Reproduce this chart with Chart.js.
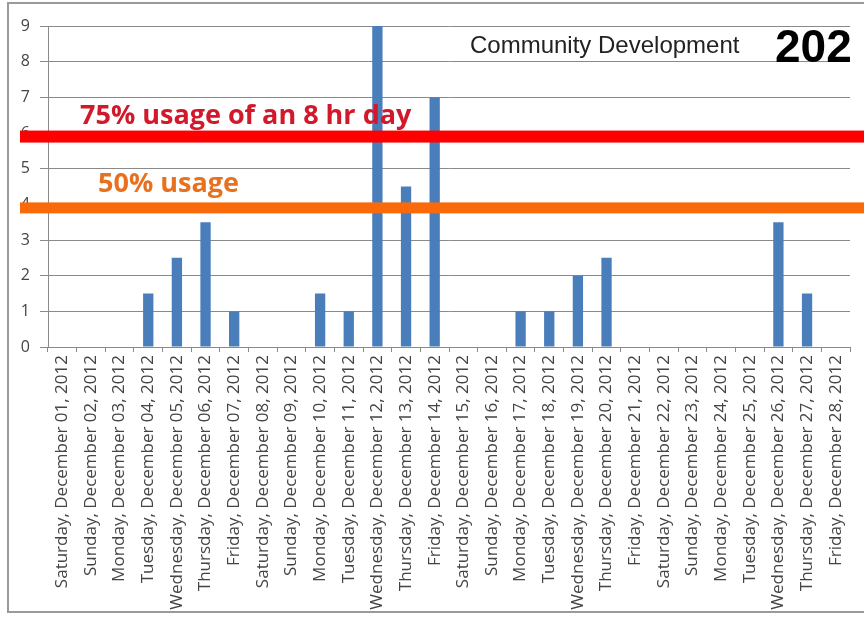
<!DOCTYPE html>
<html>
<head>
<meta charset="utf-8">
<script src="https://cdn.jsdelivr.net/npm/chart.js@4/dist/chart.umd.min.js"></script>
<style>
  html, body { margin: 0; padding: 0; background: #fff; }
  #wrap { width: 864px; height: 623px; position: relative; }
</style>
</head>
<body>
<div id="wrap"><canvas id="usageChart" width="864" height="623"></canvas></div>
<script>
const DAYS = ['Saturday','Sunday','Monday','Tuesday','Wednesday','Thursday','Friday',
  'Saturday','Sunday','Monday','Tuesday','Wednesday','Thursday','Friday',
  'Saturday','Sunday','Monday','Tuesday','Wednesday','Thursday','Friday',
  'Saturday','Sunday','Monday','Tuesday','Wednesday','Thursday','Friday'];
const DATES = ['01','02','03','04','05','06','07','08','09','10','11','12','13','14',
  '15','16','17','18','19','20','21','22','23','24','25','26','27','28'];
const HOURS = [0, 0, 0, 1.5, 2.5, 3.5, 1, 0, 0, 1.5, 1, 9, 4.5, 7,
  0, 0, 1, 1, 2, 2.5, 0, 0, 0, 0, 0, 3.5, 1.5, 0];
const Y_TICKS = [0, 1, 2, 3, 4, 5, 6, 7, 8, 9];

// reference lines drawn across the chart
const THRESHOLD_LABELS = ['75% usage of an 8 hr day', '50% usage'];
const THRESHOLD_VALUES = [5.9, 3.9];
const THRESHOLD_COLORS = ['#ff0000', '#fa6a0a'];
const THRESHOLD_TEXT_COLORS = ['#d2192b', '#e8711f'];

const TITLE = 'Community Development';
const ROOM = '202';

const labels = DAYS.map((d, i) => `${d}, December ${DATES[i]}, 2012`);

const overlay = {
  id: 'overlay',
  beforeDraw(chart) {
    const ctx = chart.ctx;
    ctx.save();
    ctx.strokeStyle = '#9a9a9a';
    ctx.lineWidth = 2;
    ctx.strokeRect(8, 3, 870, 609);
    ctx.restore();
  },
  afterDatasetsDraw(chart) {
    const ctx = chart.ctx;
    const y = chart.scales.y;
    ctx.save();
    THRESHOLD_VALUES.forEach((v, i) => {
      const py = y.getPixelForValue(v);
      ctx.fillStyle = THRESHOLD_COLORS[i];
      const h = i === 0 ? 12 : 11;
      ctx.fillRect(20, py - h / 2, chart.width - 20, h);
      ctx.fillStyle = THRESHOLD_TEXT_COLORS[i];
      ctx.font = 'bold 27px "Open Sans"';
      ctx.textBaseline = 'alphabetic';
      ctx.fillText(THRESHOLD_LABELS[i], i === 0 ? 80 : 98, py - (i === 0 ? 13 : 16));
    });

    ctx.fillStyle = '#222';
    ctx.font = '24px "Liberation Sans"';
    ctx.textBaseline = 'alphabetic';
    ctx.fillText(TITLE, 470, 53);
    ctx.fillStyle = '#000';
    ctx.font = 'bold 46px "Liberation Sans"';
    ctx.fillText(ROOM, 775, 62);
    ctx.restore();
  }
};

new Chart(document.getElementById('usageChart').getContext('2d'), {
  type: 'bar',
  data: {
    labels,
    datasets: [{
      data: HOURS,
      backgroundColor: '#4a7ebb',
      categoryPercentage: 1,
      barPercentage: 0.36
    }]
  },
  options: {
    responsive: false,
    animation: false,
    layout: { padding: { top: 26, right: 14, left: 0, bottom: 0 } },
    plugins: { legend: { display: false }, tooltip: { enabled: false } },
    scales: {
      x: {
        afterFit(scale) { scale.height = 276; },
        grid: { display: true, drawOnChartArea: false, drawTicks: true, tickLength: 5, offset: true, color: '#8a8a8a' },
        border: { color: '#8a8a8a' },
        ticks: {
          autoSkip: false, minRotation: 90, maxRotation: 90,
          color: '#444', font: { family: 'Open Sans', size: 17 }, padding: 3
        }
      },
      y: {
        min: 0, max: 9,
        afterFit(scale) { scale.width = 48; },
        afterBuildTicks(scale) { scale.ticks = Y_TICKS.map(v => ({ value: v })); },
        grid: { color: '#8a8a8a', tickLength: 8 },
        border: { color: '#8a8a8a' },
        ticks: { color: '#444', font: { family: 'Open Sans', size: 16 }, padding: 10 }
      }
    }
  },
  plugins: [overlay]
});
</script>
</body>
</html>
